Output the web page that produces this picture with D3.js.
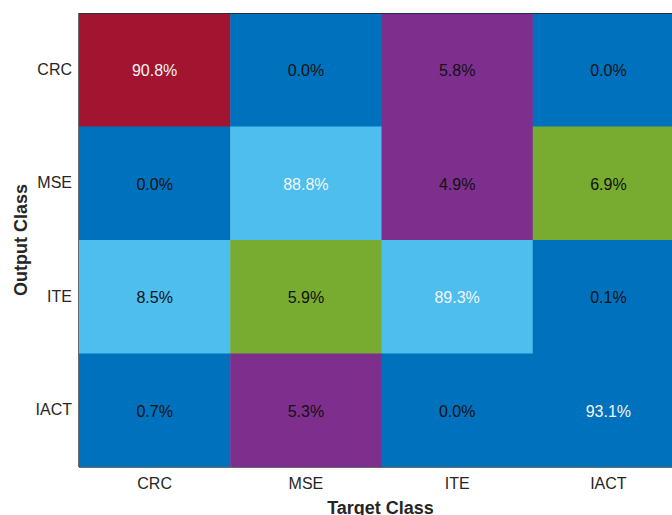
<!DOCTYPE html>
<html>
<head>
<meta charset="utf-8">
<script src="https://cdn.jsdelivr.net/npm/d3@7"></script>
<style>
  html, body { margin: 0; padding: 0; background: #fff; overflow: hidden; }
  svg { display: block; font-family: "Liberation Sans", Arial, Helvetica, sans-serif; }
</style>
</head>
<body>
<svg id="chart" width="672" height="515"></svg>
<script>
// Class labels (rows = output class, columns = target class)
const targetClasses = ["CRC", "MSE", "ITE", "IACT"];
const outputClasses = ["CRC", "MSE", "ITE", "IACT"];

// Percentages, one array per output-class row
const rowCRC  = [90.8, 0.0, 5.8, 0.0];
const rowMSE  = [0.0, 88.8, 4.9, 6.9];
const rowITE  = [8.5, 5.9, 89.3, 0.1];
const rowIACT = [0.7, 5.3, 0.0, 93.1];
const matrixRows = [rowCRC, rowMSE, rowITE, rowIACT];

const svg = d3.select("#chart");
const margin = { left: 79, top: 13 };
const plotW = 605, plotH = 454;

const x = d3.scaleBand().domain(targetClasses).range([margin.left, margin.left + plotW]);
const y = d3.scaleBand().domain(outputClasses).range([margin.top, margin.top + plotH]);

// Cyclic palette lookup by percentage
const color = d3.scaleThreshold()
  .domain([1, 5.85, 8, 90, 92])
  .range(["#0072BD", "#7E2F8E", "#77AC30", "#4DBEEE", "#A2142F", "#0072BD"]);

const cells = [];
matrixRows.forEach((row, i) => row.forEach((v, j) => cells.push({
  out: outputClasses[i], tgt: targetClasses[j], value: v, diag: i === j
})));

const g = svg.append("g");
g.selectAll("rect.cell").data(cells).join("rect")
  .attr("class", "cell")
  .attr("x", d => x(d.tgt))
  .attr("y", d => y(d.out))
  .attr("width", x.bandwidth() + 0.5)
  .attr("height", y.bandwidth() + 0.5)
  .attr("fill", d => color(d.value));

g.selectAll("text.val").data(cells).join("text")
  .attr("class", "val")
  .attr("x", d => x(d.tgt) + x.bandwidth() / 2)
  .attr("y", d => y(d.out) + y.bandwidth() / 2 + 1)
  .attr("text-anchor", "middle")
  .attr("dominant-baseline", "central")
  .attr("font-size", 16)
  .attr("fill", d => d.diag ? "#f4f4f4" : "#111111")
  .text(d => d.value.toFixed(1) + "%");

// Frame
svg.append("line").attr("x1", margin.left).attr("x2", margin.left + plotW)
  .attr("y1", margin.top + 0.5).attr("y2", margin.top + 0.5)
  .attr("stroke", "#262f40").attr("stroke-width", 1);
svg.append("line").attr("x1", margin.left - 0.5).attr("x2", margin.left - 0.5)
  .attr("y1", margin.top).attr("y2", margin.top + plotH)
  .attr("stroke", "#6b6b6b").attr("stroke-width", 1);
svg.append("line").attr("x1", margin.left).attr("x2", margin.left + plotW)
  .attr("y1", margin.top + plotH + 0.5).attr("y2", margin.top + plotH + 0.5)
  .attr("stroke", "#6b6b6b").attr("stroke-width", 1);

// Axes
const xAxis = svg.append("g")
  .attr("transform", `translate(0,${margin.top + plotH})`)
  .call(d3.axisBottom(x).tickSize(0).tickPadding(11));
const yAxis = svg.append("g")
  .attr("transform", `translate(${margin.left},0)`)
  .call(d3.axisLeft(y).tickSize(0).tickPadding(7));
[xAxis, yAxis].forEach(a => {
  a.select(".domain").remove();
  a.selectAll("text").attr("font-size", 16).attr("fill", "#262626")
    .attr("font-family", "Liberation Sans, Arial, sans-serif");
});

// Axis titles
svg.append("text")
  .attr("x", margin.left + plotW / 2 - 1)
  .attr("y", 514)
  .attr("text-anchor", "middle")
  .attr("font-size", 18).attr("font-weight", "bold").attr("fill", "#262626")
  .text("Target Class");
svg.append("text")
  .attr("transform", `translate(27,${margin.top + plotH / 2}) rotate(-90)`)
  .attr("text-anchor", "middle")
  .attr("font-size", 18).attr("font-weight", "bold").attr("fill", "#262626")
  .text("Output Class");
</script>
</body>
</html>
